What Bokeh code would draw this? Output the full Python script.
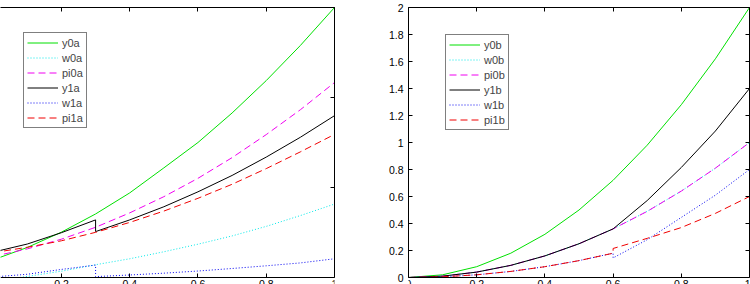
from bokeh.plotting import figure
from bokeh.models import Range1d, LinearAxis, FixedTicker, Legend, LegendItem
from bokeh.layouts import row
from bokeh.embed import file_html
from bokeh.resources import INLINE

# ---- panel a ----
xa = [0.0, 0.1, 0.2, 0.3, 0.4, 0.5, 0.6, 0.7, 0.8, 0.9, 1.0]
xa_step = [0.0, 0.1, 0.2, 0.3, 0.3, 0.4, 0.5, 0.6, 0.7, 0.8, 0.9, 1.0]
y0a = [0.098, 0.167, 0.252, 0.353, 0.470, 0.609, 0.750, 0.914, 1.094, 1.289, 1.5]
w0a = [-0.02, 0.006, 0.035, 0.071, 0.104, 0.143, 0.185, 0.231, 0.284, 0.344, 0.408]
pi0a = [0.117, 0.159, 0.213, 0.279, 0.359, 0.449, 0.551, 0.666, 0.794, 0.932, 1.083]
y1a = [0.141, 0.186, 0.249, 0.320, 0.255, 0.320, 0.393, 0.476, 0.567, 0.669, 0.779, 0.899]
w1a = [0.003, 0.018, 0.045, 0.069, 0.005, 0.014, 0.024, 0.036, 0.050, 0.065, 0.081, 0.104]
pi1a = [0.138, 0.168, 0.204, 0.251, 0.306, 0.369, 0.440, 0.518, 0.605, 0.698, 0.795]

# ---- panel b ----
xb = [0.0, 0.1, 0.2, 0.3, 0.4, 0.5, 0.6, 0.7, 0.8, 0.9, 1.0]
xb_step = [0.0, 0.1, 0.2, 0.3, 0.4, 0.5, 0.6, 0.6, 0.7, 0.8, 0.9, 1.0]
y0b = [0.0, 0.02, 0.08, 0.18, 0.32, 0.50, 0.72, 0.98, 1.28, 1.62, 2.0]
w0b = [0.0, 0.01, 0.04, 0.09, 0.16, 0.25, 0.36, 0.49, 0.64, 0.81, 1.0]
pi0b = [0.0, 0.01, 0.04, 0.09, 0.16, 0.25, 0.36, 0.49, 0.64, 0.81, 1.0]
y1b = [0.0, 0.01, 0.04, 0.09, 0.16, 0.25, 0.36, 0.57, 0.815, 1.085, 1.4]
w1b = [0.0, 0.005, 0.02, 0.045, 0.08, 0.125, 0.18, 0.145, 0.28, 0.445, 0.61, 0.8]
pi1b = [0.0, 0.005, 0.02, 0.045, 0.08, 0.125, 0.18, 0.215, 0.29, 0.37, 0.475, 0.6]

x_ticks = [0.0, 0.2, 0.4, 0.6, 0.8, 1.0]
x_tick_labels = ["0", "0.2", "0.4", "0.6", "0.8", "1"]
ya_ticks = [0.0, 0.5, 1.0, 1.5]
yb_ticks = [0.0, 0.2, 0.4, 0.6, 0.8, 1.0, 1.2, 1.4, 1.6, 1.8, 2.0]
yb_tick_labels = ["0", "0.2", "0.4", "0.6", "0.8", "1", "1.2", "1.4", "1.6", "1.8", "2"]

FONT = "Liberation Sans"
TICK_SIZE = "10.5px"
H = 284          # canvas height
TOP = 7          # space above the axes box
BOX_H = 270      # height of the axes box; the page ends 7 px under it

styles = [
    dict(color="#00e000", line_dash="solid"),   # y0
    dict(color="#00e8e8", line_dash="1 2"),     # w0
    dict(color="#f000f0", line_dash="7 4"),     # pi0
    dict(color="#000000", line_dash="solid"),   # y1
    dict(color="#0000f0", line_dash="1 2"),     # w1
    dict(color="#f00000", line_dash="7 4"),     # pi1
]


def add_axis(p, ticks, side, labels=None, bounds=None, fixed=None, standoff=5):
    ax = LinearAxis(ticker=FixedTicker(ticks=ticks))
    ax.major_tick_in = 4
    ax.major_tick_out = 0
    ax.minor_tick_line_color = None
    ax.axis_line_color = "black"
    ax.major_tick_line_color = "black"
    if bounds is not None:
        ax.bounds = bounds
    if fixed is not None:
        ax.fixed_location = fixed
    if labels is None:
        # tick marks only
        ax.major_label_text_color = None
        ax.major_label_text_font_size = "1px"
        ax.major_label_standoff = 0
    else:
        ax.major_label_overrides = {t: s for t, s in zip(ticks, labels)}
        ax.major_label_text_font = FONT
        ax.major_label_text_font_size = TICK_SIZE
        ax.major_label_text_color = "black"
        ax.major_label_standoff = standoff
    p.add_layout(ax, side)
    return ax


def make_panel(width, x_range, y_top, border_left, border_right):
    # the frame runs to the bottom of the page so that the x tick labels
    # under the box are cut by the page edge
    below = (H - TOP - BOX_H) * y_top / BOX_H
    p = figure(width=width, height=H, x_range=x_range, y_range=Range1d(-below, y_top),
               x_axis_location=None, y_axis_location=None,
               toolbar_location=None, output_backend="svg",
               min_border_left=border_left, min_border_right=border_right,
               min_border_top=TOP, min_border_bottom=0)
    p.outline_line_color = None
    p.background_fill_color = "white"
    p.border_fill_color = "white"
    return p, below


def drop_grids(p):
    for g in p.xgrid + p.ygrid:
        g.visible = False


def draw_series(p, series, names, legend_xy, x_range, below):
    items = []
    for (xs, ys), name, st in zip(series, names, styles):
        r = p.line(xs, ys, line_color=st["color"], line_width=1,
                   line_dash=st["line_dash"])
        items.append(LegendItem(label=name, renderers=[r]))
    # nothing is shown under the axes box
    p.quad(left=x_range.start - 1, right=x_range.end + 1, bottom=-below - 1, top=0,
           fill_color="white", line_color=None)
    leg = Legend(items=items, location=legend_xy)
    leg.border_line_color = "black"
    leg.border_line_width = 1
    leg.background_fill_color = "white"
    leg.background_fill_alpha = 1
    leg.padding = 3
    leg.margin = 0
    leg.spacing = 2
    leg.glyph_height = 13
    leg.glyph_width = 31
    leg.label_height = 13
    leg.label_standoff = 4
    leg.label_text_font = FONT
    leg.label_text_font_size = "11px"
    p.add_layout(leg)


# panel a: the frame begins just past x = 0
ra = Range1d(0.0214, 1.0)
pa, below_a = make_panel(340, ra, 1.5, 0, 6)
add_axis(pa, x_ticks, "below", x_tick_labels, fixed=0, standoff=2)
add_axis(pa, x_ticks, "above")
add_axis(pa, ya_ticks, "right", bounds=(0, 1.5))
drop_grids(pa)
draw_series(pa, [(xa, y0a), (xa, w0a), (xa, pi0a), (xa_step, y1a), (xa_step, w1a), (xa, pi1a)],
            ["y0a", "w0a", "pi0a", "y1a", "w1a", "pi1a"], (23, 149 + H - TOP - BOX_H - TOP + 7), ra, below_a)

# panel b
rb = Range1d(0.0, 1.0)
pb, below_b = make_panel(410, rb, 2.0, 68, 1)
add_axis(pb, x_ticks, "below", x_tick_labels, fixed=0, standoff=2)
add_axis(pb, x_ticks, "above")
add_axis(pb, yb_ticks, "left", yb_tick_labels, bounds=(0, 2))
add_axis(pb, yb_ticks, "right", bounds=(0, 2))
drop_grids(pb)
draw_series(pb, [(xb, y0b), (xb, w0b), (xb, pi0b), (xb, y1b), (xb_step, w1b), (xb_step, pi1b)],
            ["y0b", "w0b", "pi0b", "y1b", "w1b", "pi1b"], (37, 147 + 7), rb, below_b)

layout = row(pa, pb)
open("out.html", "w").write(file_html(layout, INLINE))
